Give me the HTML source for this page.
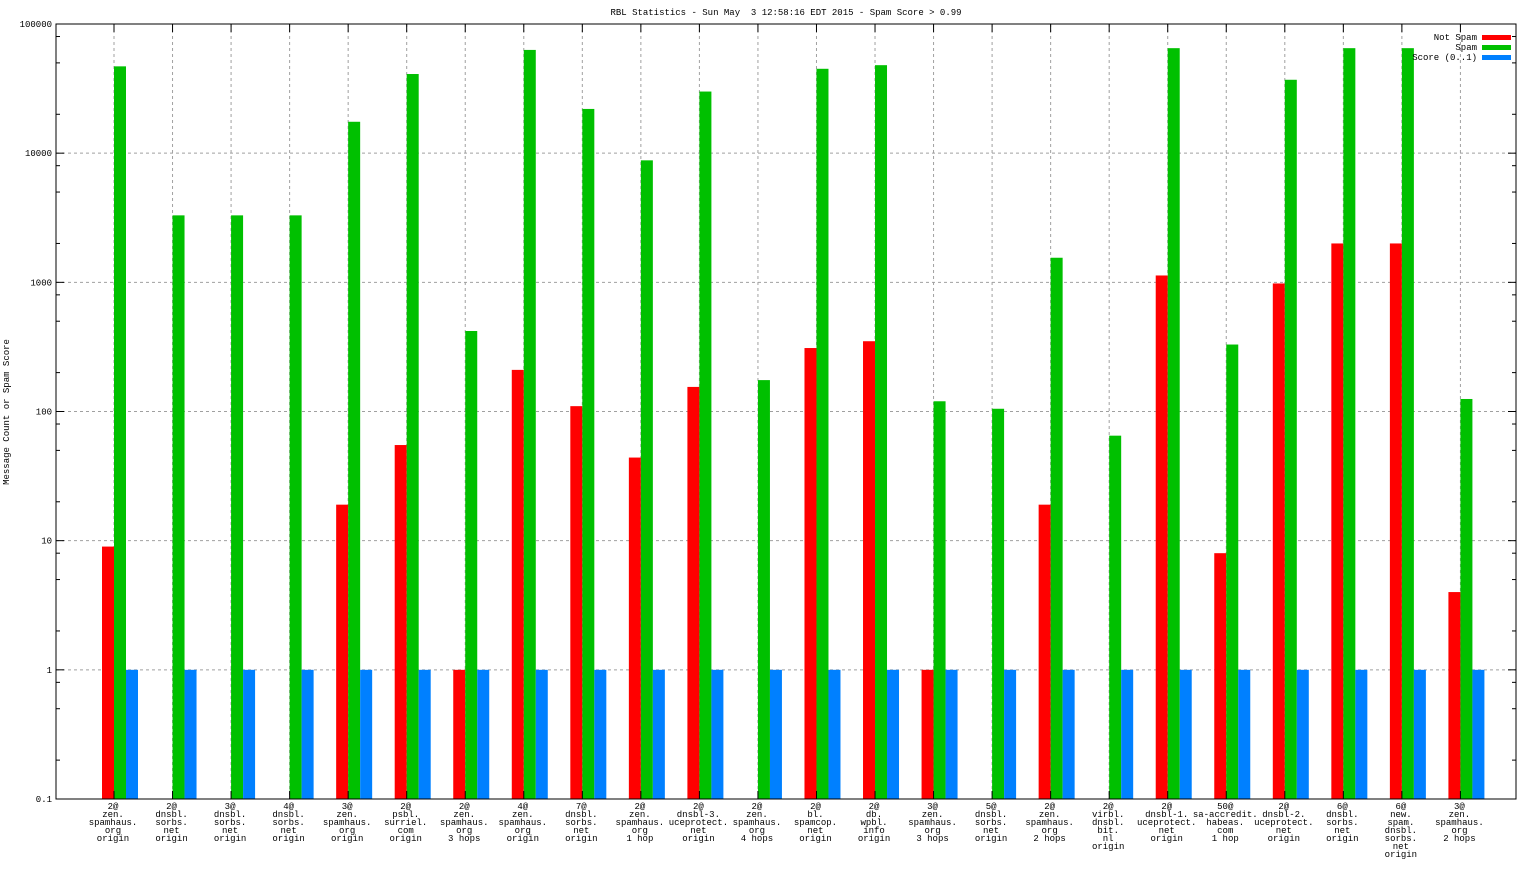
<!DOCTYPE html>
<html><head><meta charset="utf-8"><style>
html,body{margin:0;padding:0;background:#fff;}
svg text{font-family:"Liberation Mono","DejaVu Sans Mono",monospace;font-size:9px;fill:#000;white-space:pre;}
</style></head><body>
<svg id="chart" width="1536" height="864" xmlns="http://www.w3.org/2000/svg">
<text x="786" y="15" text-anchor="middle" xml:space="preserve">RBL Statistics - Sun May  3 12:58:16 EDT 2015 - Spam Score &gt; 0.99</text>
<text transform="translate(9,412) rotate(-90)" text-anchor="middle">Message Count or Spam Score</text>
<g id="grid"></g><g id="bars"></g><g id="axes"></g><g id="labels"></g>
<g>
<text x="1477" y="40" text-anchor="end">Not Spam</text><rect x="1482" y="35" width="29" height="5" fill="#ff0000"/>
<text x="1477" y="50" text-anchor="end">Spam</text><rect x="1482" y="45" width="29" height="5" fill="#00c000"/>
<text x="1477" y="60" text-anchor="end">Score (0..1)</text><rect x="1482" y="55" width="29" height="5" fill="#0080ff"/>
</g>
</svg>
<script>
const categories=[
["2@","zen.","spamhaus.","org","origin"],["2@","dnsbl.","sorbs.","net","origin"],["3@","dnsbl.","sorbs.","net","origin"],["4@","dnsbl.","sorbs.","net","origin"],
["3@","zen.","spamhaus.","org","origin"],["2@","psbl.","surriel.","com","origin"],["2@","zen.","spamhaus.","org","3 hops"],["4@","zen.","spamhaus.","org","origin"],
["7@","dnsbl.","sorbs.","net","origin"],["2@","zen.","spamhaus.","org","1 hop"],["2@","dnsbl-3.","uceprotect.","net","origin"],["2@","zen.","spamhaus.","org","4 hops"],
["2@","bl.","spamcop.","net","origin"],["2@","db.","wpbl.","info","origin"],["3@","zen.","spamhaus.","org","3 hops"],["5@","dnsbl.","sorbs.","net","origin"],
["2@","zen.","spamhaus.","org","2 hops"],["2@","virbl.","dnsbl.","bit.","nl","origin"],["2@","dnsbl-1.","uceprotect.","net","origin"],["50@","sa-accredit.","habeas.","com","1 hop"],
["2@","dnsbl-2.","uceprotect.","net","origin"],["6@","dnsbl.","sorbs.","net","origin"],["6@","new.","spam.","dnsbl.","sorbs.","net","origin"],["3@","zen.","spamhaus.","org","2 hops"]];
const notSpam=[9,null,null,null,19,55,1,210,110,44,155,null,310,350,1,null,19,null,1130,8,980,2000,2000,4];
const spam=[47000,3300,3300,3300,17500,41000,420,63000,22000,8800,30000,175,45000,48000,120,105,1550,65,65000,330,37000,65000,65000,125];
const score=[1,1,1,1,1,1,1,1,1,1,1,1,1,1,1,1,1,1,1,1,1,1,1,1];
const yTicks=[0.1,1,10,100,1000,10000,100000];
const yTickLabels=["0.1","1","10","100","1000","10000","100000"];

const NS="http://www.w3.org/2000/svg";
const L=56,R=1516,T=24,B=799;
function y(v){return B-(Math.log10(v)+1)/6*(B-T);}
function xc(i){return 114+i*58.54;}
function mk(tag,attrs,parent){const e=document.createElementNS(NS,tag);for(const k in attrs)e.setAttribute(k,attrs[k]);document.getElementById(parent).appendChild(e);return e;}
yTicks.forEach((v,i)=>{
  if(i>0&&i<yTicks.length-1){const g=mk('line',{x1:L,x2:R,y1:y(v),y2:y(v),stroke:'#a0a0a0','stroke-dasharray':'3,3'},'grid');
  
  }
  const t=mk('text',{x:L-4,y:y(v)+3,'text-anchor':'end'},'axes');t.textContent=yTickLabels[i];
  
  
  mk('line',{x1:L,x2:L+8,y1:y(v),y2:y(v),stroke:'#000'},'axes');
  mk('line',{x1:R,x2:R-8,y1:y(v),y2:y(v),stroke:'#000'},'axes');
  if(i<yTicks.length-1){[2,5,8].forEach(m=>{const yy=y(v*m);
    mk('line',{x1:L,x2:L+4,y1:yy,y2:yy,stroke:'#000'},'axes');
    mk('line',{x1:R,x2:R-4,y1:yy,y2:yy,stroke:'#000'},'axes');});}
});
categories.forEach((c,i)=>{
  const x=xc(i);
  const g=mk('line',{x1:x,x2:x,y1:T,y2:B,stroke:'#a0a0a0','stroke-dasharray':'3,3'},'grid');
  
  
  mk('line',{x1:x,x2:x,y1:B,y2:B-8,stroke:'#000'},'axes');
  mk('line',{x1:x,x2:x,y1:T,y2:T+8,stroke:'#000'},'axes');
  const base=y(0.1);
  [[notSpam[i],-12,'#ff0000','bar-not-spam'],[spam[i],0,'#00c000','bar-spam'],[score[i],12,'#0080ff','bar-score']].forEach(s=>{
    if(s[0]==null)return;
    const r=mk('rect',{x:x+s[1],y:y(s[0]),width:12,height:base-y(s[0]),fill:s[2]},'bars');
    
    
  });
  c.forEach((ln,j)=>{const t=mk('text',{x:x-1,y:809+j*8,'text-anchor':'middle'},'labels');t.textContent=ln;
    
    });
});
const f=mk('rect',{x:L,y:T,width:R-L,height:B-T,fill:'none',stroke:'#000'},'axes');


</script>
</body></html>
